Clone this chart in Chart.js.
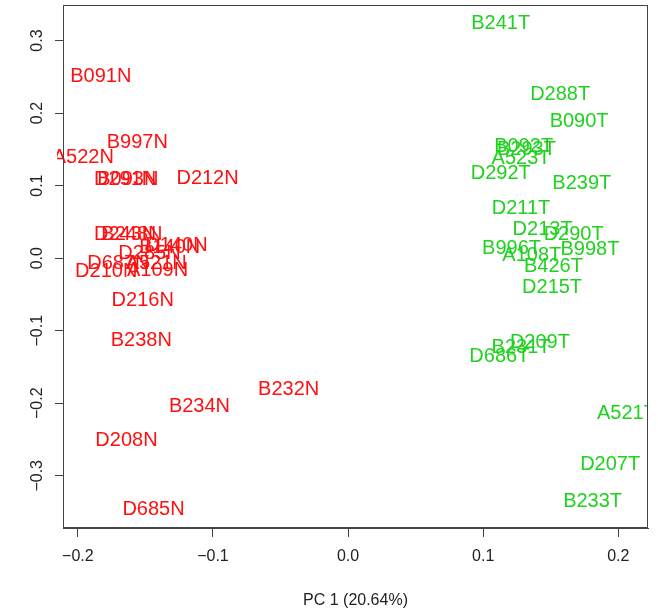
<!DOCTYPE html>
<html>
<head>
<meta charset="utf-8">
<script src="https://cdn.jsdelivr.net/npm/chart.js@4/dist/chart.umd.min.js"></script>
<style>
  html, body { margin: 0; padding: 0; background: #fff; }
  canvas { display: block; }
</style>
</head>
<body>
<canvas id="pcaChart" width="658" height="611"></canvas>
<script>
// normal samples (red)
const normalLabels = ["B091N", "B997N", "A522N", "D291N", "B093N", "D212N", "D243N", "B248N",
    "D140N", "B140N", "D285N", "D687N", "A521N", "D210N", "A109N", "D216N",
    "B238N", "B232N", "B234N", "D208N", "D685N"];
const normalPC1 = [-0.183, -0.156, -0.196, -0.165, -0.163, -0.104, -0.165, -0.160,
    -0.127, -0.132, -0.147, -0.170, -0.142, -0.179, -0.141, -0.152,
    -0.153, -0.044, -0.110, -0.164, -0.144];
const normalPC2 = [0.251, 0.159, 0.139, 0.108, 0.108, 0.110, 0.032, 0.033,
    0.017, 0.015, 0.007, -0.007, -0.007, -0.019, -0.017, -0.059,
    -0.113, -0.181, -0.204, -0.252, -0.346];

// tumour samples (green)
const tumorLabels = ["B241T", "D288T", "B090T", "B092T", "B293T", "A523T", "D292T", "B239T",
    "D211T", "D213T", "D290T", "B996T", "A108T", "B998T", "B426T", "D215T",
    "D209T", "B231T", "D686T", "A521T", "D207T", "B233T"];
const tumorPC1 = [0.113, 0.157, 0.171, 0.130, 0.132, 0.128, 0.113, 0.173,
    0.128, 0.144, 0.167, 0.121, 0.136, 0.179, 0.152, 0.151,
    0.142, 0.128, 0.112, 0.206, 0.194, 0.181];
const tumorPC2 = [0.324, 0.226, 0.188, 0.154, 0.150, 0.138, 0.117, 0.103,
    0.068, 0.039, 0.033, 0.014, 0.004, 0.012, -0.012, -0.041,
    -0.116, -0.123, -0.135, -0.214, -0.284, -0.335];

const xTicks = [-0.2, -0.1, 0.0, 0.1, 0.2];
const yTicks = [-0.3, -0.2, -0.1, 0.0, 0.1, 0.2, 0.3];
const xTitle = "PC 1 (20.64%)";

const RED = "#ff1010";
const GREEN = "#1ed21e";
const AXIS = "#444";
const LABEL_FONT = '20px "Liberation Sans", Arial, sans-serif';
const TICK_FONT = { family: '"Liberation Sans", Arial, sans-serif', size: 16 };

function toPoints(xs, ys) {
    return xs.map((x, i) => ({ x: x, y: ys[i] }));
}

function fmt(v) {
    return v.toFixed(1).replace("-", "\u2212");
}

const sampleLabels = {
    id: "sampleLabels",
    afterDatasetsDraw(chart) {
        const ctx = chart.ctx;
        const area = chart.chartArea;
        ctx.save();
        ctx.beginPath();
        ctx.rect(area.left - 6, area.top, area.right - area.left + 6, area.bottom - area.top);
        ctx.clip();
        ctx.font = LABEL_FONT;
        ctx.textAlign = "center";
        ctx.textBaseline = "middle";
        chart.data.datasets.forEach((ds, di) => {
            const meta = chart.getDatasetMeta(di);
            ctx.fillStyle = ds.textColor;
            meta.data.forEach((el, i) => {
                ctx.fillText(ds.names[i], el.x, el.y);
            });
        });
        ctx.restore();
    }
};

const frameAndYLabels = {
    id: "frameAndYLabels",
    afterDraw(chart) {
        const ctx = chart.ctx;
        const area = chart.chartArea;
        const yScale = chart.scales.y;
        ctx.save();
        ctx.strokeStyle = AXIS;
        ctx.lineWidth = 1;
        ctx.strokeRect(area.left + 0.5, area.top + 0.5, area.right - area.left - 1, area.bottom - area.top - 1);
        // rotated y tick labels, R style
        ctx.fillStyle = "#222";
        ctx.font = TICK_FONT.size + "px " + TICK_FONT.family;
        ctx.textAlign = "center";
        ctx.textBaseline = "middle";
        yTicks.forEach(v => {
            const py = yScale.getPixelForValue(v);
            ctx.save();
            ctx.translate(38, py);
            ctx.rotate(-Math.PI / 2);
            ctx.fillText(fmt(v), 0, 0);
            ctx.restore();
        });
        ctx.restore();
    }
};

new Chart(document.getElementById("pcaChart"), {
    type: "scatter",
    data: {
        datasets: [
            {
                label: "Normal",
                data: toPoints(normalPC1, normalPC2),
                names: normalLabels,
                textColor: RED,
                pointRadius: 0,
                pointHoverRadius: 0
            },
            {
                label: "Tumour",
                data: toPoints(tumorPC1, tumorPC2),
                names: tumorLabels,
                textColor: GREEN,
                pointRadius: 0,
                pointHoverRadius: 0
            }
        ]
    },
    options: {
        responsive: false,
        animation: false,
        events: [],
        layout: { padding: { top: 5, right: 10, left: 0, bottom: 0 } },
        plugins: {
            legend: { display: false },
            tooltip: { enabled: false }
        },
        scales: {
            x: {
                type: "linear",
                min: -0.211,
                max: 0.222,
                afterBuildTicks: scale => { scale.ticks = xTicks.map(v => ({ value: v })); },
                afterFit: scale => { scale.height = 83; },
                grid: { drawOnChartArea: false, drawTicks: true, tickLength: 9, color: AXIS },
                border: { display: true, color: AXIS },
                ticks: {
                    color: "#222",
                    font: TICK_FONT,
                    padding: 10,
                    maxRotation: 0,
                    callback: v => fmt(v)
                },
                title: {
                    display: true,
                    text: xTitle,
                    color: "#222",
                    font: { family: TICK_FONT.family, size: 16 },
                    padding: { top: 0, bottom: 1 }
                }
            },
            y: {
                type: "linear",
                min: -0.372,
                max: 0.349,
                afterBuildTicks: scale => { scale.ticks = yTicks.map(v => ({ value: v })); },
                afterFit: scale => { scale.width = 63; },
                grid: { drawOnChartArea: false, drawTicks: true, tickLength: 8, color: AXIS },
                border: { display: true, color: AXIS },
                ticks: { display: false }
            }
        }
    },
    plugins: [sampleLabels, frameAndYLabels]
});
</script>
</body>
</html>
